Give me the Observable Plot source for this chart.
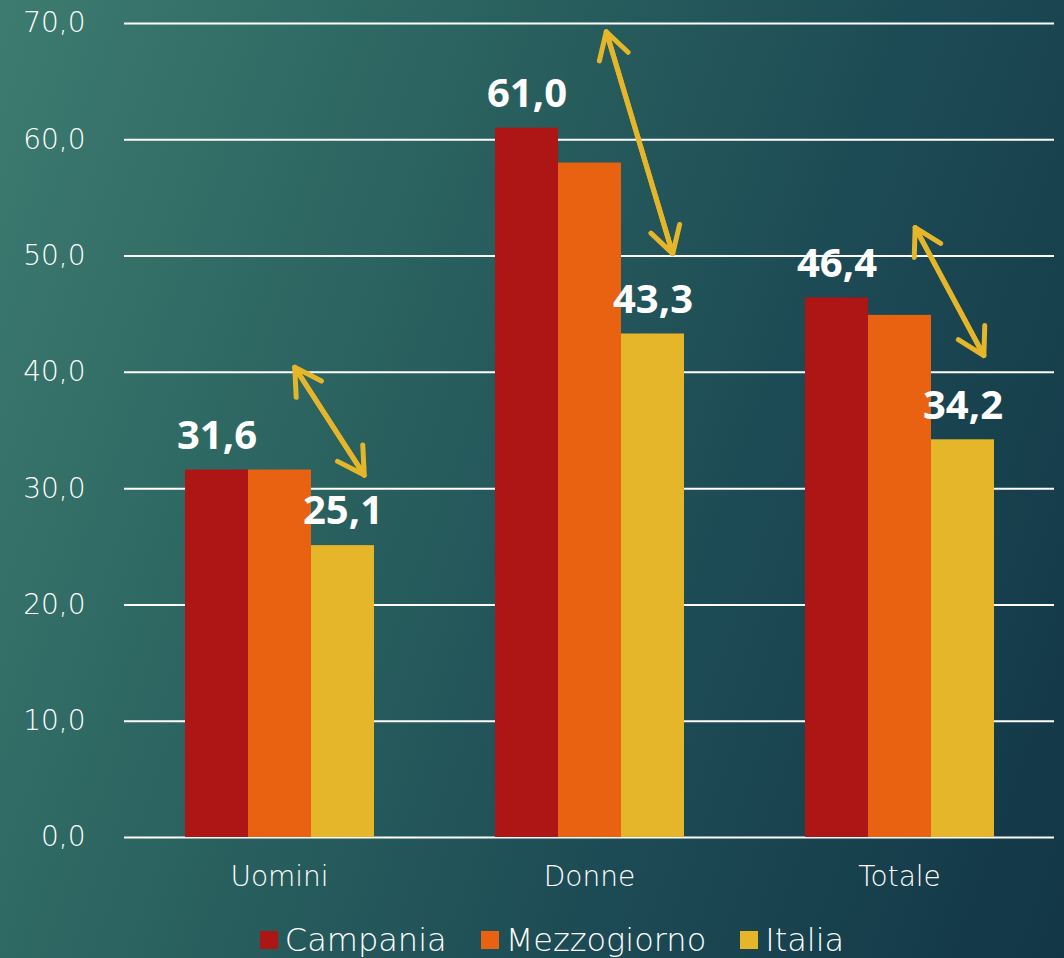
<!DOCTYPE html>
<html>
<head>
<meta charset="utf-8">
<script src="https://cdn.jsdelivr.net/npm/d3@7"></script>
<script src="https://cdn.jsdelivr.net/npm/@observablehq/plot@0.6"></script>
<style>
  html, body { margin: 0; padding: 0; }
  body {
    width: 1064px; height: 958px; overflow: hidden;
    background: linear-gradient(110deg, #3d7b70 0%, #2a625f 35%, #1d4b55 65%, #123646 100%);
    font-family: "DejaVu Sans", sans-serif;
  }
  #chart svg { display: block; background: transparent; }
  #legend {
    display: flex; justify-content: center; align-items: center;
    gap: 34px; height: 58px; padding-left: 40px; padding-top: 22px; box-sizing: border-box;
    color: #fff; font-family: "DejaVu Sans", sans-serif; font-weight: 200; font-size: 32px;
  }
  #legend .item { display: flex; align-items: center; gap: 7px; }
  #legend .sw { width: 18px; height: 18px; display: inline-block; }
</style>
</head>
<body>
<div id="chart"></div>
<div id="legend"></div>
<script>
const categories = ["Uomini", "Donne", "Totale"];
const seriesNames = ["Campania", "Mezzogiorno", "Italia"];
const campania = [31.6, 61.0, 46.4];
const mezzogiorno = [31.6, 58.0, 44.9];
const italia = [25.1, 43.3, 34.2];
const colors = ["#ae1515", "#e86212", "#e5b62a"];
const yTicks = [0, 10, 20, 30, 40, 50, 60, 70];
// arrow annotations (y values at start / end), per category
const arrowStart = [40.0, 68.8, 52.0];
const arrowEnd = [31.6, 50.7, 41.9];

const seriesValues = [campania, mezzogiorno, italia];
const rows = [];
categories.forEach((cat, i) => {
  seriesNames.forEach((s, j) => rows.push({cat, series: s, value: seriesValues[j][i]}));
});
const fmt = v => v.toFixed(1).replace(".", ",");
const arrowY1 = d => arrowStart[categories.indexOf(d.cat)];
const arrowY2 = d => arrowEnd[categories.indexOf(d.cat)];
const isCamp = d => d.series === "Campania";
const arrowStyle = {dx: 18, stroke: "#e5b62a", strokeWidth: 5, headLength: 9, insetStart: -6, insetEnd: -6, strokeLinecap: "round", strokeLinejoin: "round"};

const plot = Plot.plot({
  width: 1064,
  height: 900,
  marginLeft: 124,
  marginRight: 10,
  marginTop: 23,
  marginBottom: 63,
  facet: {data: rows, x: "cat"},
  fx: {domain: categories, paddingInner: 0, paddingOuter: 0, axis: "bottom", label: null, tickSize: 0, tickPadding: 29},
  x: {domain: seriesNames, paddingInner: 0, paddingOuter: 0.922, axis: null},
  y: {domain: [0, 70], ticks: yTicks, tickFormat: fmt, tickSize: 0, tickPadding: 39, label: null},
  color: {domain: seriesNames, range: colors},
  style: {background: "transparent", color: "#fff", fontFamily: "DejaVu Sans, sans-serif", fontSize: "28px", fontWeight: 200},
  marks: [
    Plot.ruleY(yTicks, {stroke: "#fff", strokeWidth: 2}),
    Plot.barY(rows, {x: "series", y: "value", fill: "series", inset: 0}),
    Plot.text(rows, {
      filter: d => d.series !== "Mezzogiorno",
      x: "series", y: "value", text: d => fmt(d.value),
      dy: -34, fill: "#fff", fontSize: 40, fontWeight: 700, fontFamily: "Open Sans, sans-serif"
    }),
    Plot.arrow(rows, {filter: isCamp, x1: () => "Mezzogiorno", x2: () => "Italia", y1: arrowY1, y2: arrowY2, ...arrowStyle}),
    Plot.arrow(rows, {filter: isCamp, x1: () => "Italia", x2: () => "Mezzogiorno", y1: arrowY2, y2: arrowY1, ...arrowStyle})
  ]
});
document.getElementById("chart").appendChild(plot);

const legend = document.getElementById("legend");
seriesNames.forEach((s, i) => {
  const item = document.createElement("div");
  item.className = "item";
  const sw = document.createElement("span");
  sw.className = "sw";
  sw.style.background = colors[i];
  const t = document.createElement("span");
  t.textContent = s;
  item.appendChild(sw); item.appendChild(t);
  legend.appendChild(item);
});
</script>
</body>
</html>
